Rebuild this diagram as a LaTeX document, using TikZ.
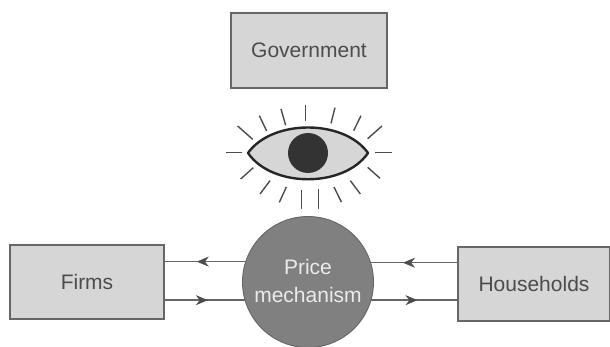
\documentclass[tikz,border=0pt]{standalone}
\usepackage{fontspec}
\setmainfont{Liberation Sans}
\usetikzlibrary{arrows.meta,decorations.markings}
\definecolor{boxfill}{gray}{0.84}
\definecolor{boxline}{gray}{0.40}
\definecolor{inkline}{gray}{0.30}
\definecolor{inktext}{gray}{0.30}
\definecolor{circfill}{gray}{0.50}
\definecolor{pupilfill}{gray}{0.20}
\tikzset{
  x=1pt,y=-1pt,
  labelbox/.style={draw=boxline,fill=boxfill,line width=1.1pt,inner sep=0pt,text=inktext,font=\fontsize{21}{26}\selectfont},
  flowline/.style={draw=boxline,line width=1.4pt},
  tipat/.style={postaction={decorate},decoration={markings,mark=at position #1 with {\arrow[inkline,line width=0.6pt]{Stealth[length=12pt,width=10pt,inset=4pt]}}}},
  ray/.style={draw=inkline,line width=1.4pt},
  eyeoutline/.style={draw=black!85,fill=boxfill,line width=2.4pt,line join=round},
}
\begin{document}
\begin{tikzpicture}
\useasboundingbox (0,0) rectangle (610,347);
\node[labelbox,minimum width=156pt,minimum height=75pt] (gov) at (309,50.5) {Government};
\node[labelbox,minimum width=154pt,minimum height=74pt] (firms) at (87,282) {Firms};
\node[labelbox,minimum width=152pt,minimum height=74pt] (house) at (534,284) {Households};
\node[circle,draw=boxline,fill=circfill,line width=0.9pt,minimum size=131pt,inner sep=0pt] (price) at (308,282) {};
\node[text=white!92!black,font=\fontsize{21}{28}\selectfont,align=center,inner sep=0pt] (pricetext) at (308,281) {Price\\mechanism};
% connectors
\draw[flowline,tipat=0.6] (price.162.2) -- (firms.east |- price.162.2);
\draw[flowline,tipat=0.54] (firms.east |- price.196) -- (price.196);
\draw[flowline,tipat=0.63] (house.west |- price.17.8) -- (price.17.8);
\draw[flowline,tipat=0.535] (price.-16) -- (house.west |- price.-16);
% eye
\coordinate (eyeL) at (248,153);
\coordinate (eyeR) at (368,153);
\draw[eyeoutline] (eyeL) .. controls (272,119) and (344,119) .. (eyeR)
                         .. controls (344,188) and (272,188) .. cycle;
\fill[pupilfill] (308,153) circle (20);
% rays
\foreach \ax/\ay/\bx/\by in {
  78/187/127/187, 113/108/158/148, 178/77/200/123, 243/57/257/106,
  317/45/317/93, 405/53/393/100, 483/77/461/122, 546/108/503/146,
  525/187/575/187, 503/232/540/265, 451/272/481/312, 402/291/424/336,
  356/297/356/356, 304/301/304/358, 259/291/238/337, 210/272/180/312,
  160/233/122/267}
  \draw[ray] ({200+\ax/3},{90+\ay/3}) -- ({200+\bx/3},{90+\by/3});
\end{tikzpicture}
\end{document}
